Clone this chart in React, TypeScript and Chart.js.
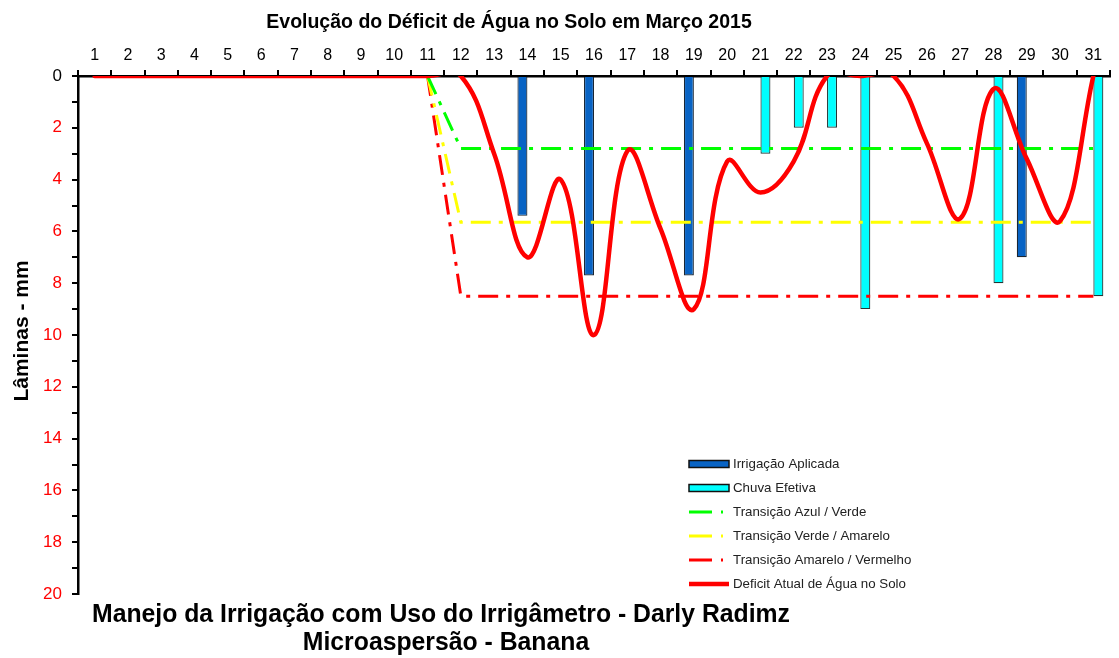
import React, { useEffect, useRef } from 'react';
import { Chart, registerables } from 'chart.js';

Chart.register(...registerables);

const FAMILY = '"Liberation Sans", Arial, Helvetica, sans-serif';

const TITLE = 'Evolução do Déficit de Água no Solo em Março 2015';
const Y_TITLE = 'Lâminas - mm';
const FOOT_1 = 'Manejo da Irrigação com Uso do Irrigâmetro - Darly Radimz';
const FOOT_2 = 'Microaspersão - Banana';

const DAYS = ['1', '2', '3', '4', '5', '6', '7', '8', '9', '10', '11', '12', '13', '14', '15', '16', '17', '18', '19', '20', '21', '22', '23', '24', '25', '26', '27', '28', '29', '30', '31'];

const IRRIGACAO = [null, null, null, null, null, null, null, null, null, null,
  null, null, null, 5.4, null, 7.7, null, null, 7.7, null,
  null, null, null, null, null, null, null, null, 7.0, null,
  null];

const CHUVA = [null, null, null, null, null, null, null, null, null, null,
  null, null, null, null, null, null, null, null, null, null,
  3.0, 2.0, 2.0, 9.0, null, null, null, 8.0, null, null,
  8.5];

const AZUL_VERDE = [null, null, null, null, null, null, null, null, null, null,
  0, 2.8, 2.8, 2.8, 2.8, 2.8, 2.8, 2.8, 2.8, 2.8,
  2.8, 2.8, 2.8, 2.8, 2.8, 2.8, 2.8, 2.8, 2.8, 2.8,
  2.8];

const VERDE_AMARELO = [null, null, null, null, null, null, null, null, null, null,
  0, 5.65, 5.65, 5.65, 5.65, 5.65, 5.65, 5.65, 5.65, 5.65,
  5.65, 5.65, 5.65, 5.65, 5.65, 5.65, 5.65, 5.65, 5.65, 5.65,
  5.65];

const AMARELO_VERMELHO = [null, null, null, null, null, null, null, null, null, null,
  0, 8.5, 8.5, 8.5, 8.5, 8.5, 8.5, 8.5, 8.5, 8.5,
  8.5, 8.5, 8.5, 8.5, 8.5, 8.5, 8.5, 8.5, 8.5, 8.5,
  8.5];

const DEFICIT = [0, 0, 0, 0, 0, 0, 0, 0, 0, 0,
  0, 0, 3.0, 7.0, 4.0, 10.0, 2.9, 5.9, 9.0, 3.3,
  4.5, 3.3, 0, 0, 0, 2.6, 5.5, 0.5, 3.2, 5.6,
  0];

const DASH = [20, 8, 4, 8];

function drawCondensed(ctx: CanvasRenderingContext2D, text: string, cx: number, y: number, sx: number) {
  ctx.save();
  ctx.translate(cx, y);
  ctx.scale(sx, 1);
  ctx.fillText(text, 0, 0);
  ctx.restore();
}

const overlayPlugin = {
  id: 'overlayTexts',
  afterDraw(chart: any) {
    const ctx = chart.ctx as CanvasRenderingContext2D;
    ctx.save();
    ctx.fillStyle = '#000';
    ctx.textAlign = 'center';
    ctx.textBaseline = 'alphabetic';
    ctx.font = `bold 19.5px ${FAMILY}`;
    ctx.fillText(TITLE, 509, 28);

    // y axis title
    ctx.save();
    ctx.translate(28, 331);
    ctx.rotate(-Math.PI / 2);
    ctx.font = `bold 21px ${FAMILY}`;
    ctx.fillText(Y_TITLE, 0, 0);
    ctx.restore();

    // footer (narrow bold)
    ctx.font = `bold 25px ${FAMILY}`;
    const w1 = ctx.measureText(FOOT_1).width;
    const sx = 698 / w1;
    drawCondensed(ctx, FOOT_1, 441, 622, sx);
    drawCondensed(ctx, FOOT_2, 446, 650, sx);

    // legend
    const x0 = 689;
    const sw = 40;
    const ys = [464, 488, 512, 536, 560, 584];
    ctx.textAlign = 'left';
    ctx.textBaseline = 'middle';
    ctx.font = `13.3px ${FAMILY}`;
    ys.forEach((y, i) => {
      const ds = chart.data.datasets[i];
      if (ds.type === 'bar') {
        ctx.fillStyle = ds.backgroundColor;
        ctx.fillRect(x0, y - 3.5, sw, 7);
        ctx.strokeStyle = '#111';
        ctx.lineWidth = 1.5;
        ctx.strokeRect(x0, y - 3.5, sw, 7);
      } else {
        ctx.strokeStyle = ds.borderColor;
        ctx.lineWidth = ds.borderWidth;
        ctx.setLineDash(ds.borderDash ? [23, 9, 2, 9] : []);
        ctx.lineCap = 'butt';
        ctx.beginPath();
        ctx.moveTo(x0, y);
        ctx.lineTo(x0 + sw, y);
        ctx.stroke();
        ctx.setLineDash([]);
      }
      ctx.fillStyle = '#222';
      ctx.fillText(ds.label, x0 + sw + 4, y + 0.5);
    });
    ctx.restore();
  },
};

export default function App() {
  const ref = useRef<HTMLCanvasElement>(null);

  useEffect(() => {
    if (!ref.current) return;
    const chart = new Chart(ref.current, {
      type: 'bar',
      data: {
        labels: DAYS,
        datasets: [
          {
            type: 'bar',
            label: 'Irrigação Aplicada',
            data: IRRIGACAO,
            backgroundColor: '#0863C4',
            borderColor: '#1A2633',
            borderWidth: 1.2,
            categoryPercentage: 0.6,
            barPercentage: 1.0,
            order: 3,
          },
          {
            type: 'bar',
            label: 'Chuva Efetiva',
            data: CHUVA,
            backgroundColor: '#00FFFF',
            borderColor: '#253535',
            borderWidth: 1.2,
            categoryPercentage: 0.6,
            barPercentage: 1.0,
            order: 3,
          },
          {
            type: 'line',
            label: 'Transição Azul / Verde',
            data: AZUL_VERDE,
            borderColor: '#00FF00',
            borderWidth: 3,
            borderDash: DASH,
            pointRadius: 0,
            tension: 0,
            fill: false,
            order: 2,
          },
          {
            type: 'line',
            label: 'Transição Verde / Amarelo',
            data: VERDE_AMARELO,
            borderColor: '#FFFF00',
            borderWidth: 3,
            borderDash: DASH,
            pointRadius: 0,
            tension: 0,
            fill: false,
            order: 2,
          },
          {
            type: 'line',
            label: 'Transição Amarelo / Vermelho',
            data: AMARELO_VERMELHO,
            borderColor: '#FF0000',
            borderWidth: 3,
            borderDash: DASH,
            pointRadius: 0,
            tension: 0,
            fill: false,
            order: 2,
          },
          {
            type: 'line',
            label: 'Deficit Atual de Água no Solo',
            data: DEFICIT,
            borderColor: '#FF0000',
            borderWidth: 4.5,
            pointRadius: 0,
            tension: 0.4,
            capBezierPoints: false,
            borderJoinStyle: 'round',
            borderCapStyle: 'round',
            fill: false,
            order: 0,
          } as any,
        ],
      },
      options: {
        animation: false,
        responsive: false,
        devicePixelRatio: 1,
        layout: { padding: { top: 40, right: 9, bottom: 64, left: 0 } },
        plugins: {
          legend: { display: false },
          title: { display: false },
          tooltip: { enabled: false },
        },
        scales: {
          x: {
            position: 'top',
            offset: true,
            grid: {
              offset: true,
              drawOnChartArea: false,
              drawTicks: true,
              tickLength: 6,
              color: '#000',
              lineWidth: 2,
            },
            border: { display: true, color: '#000', width: 2.5 },
            ticks: {
              color: '#000',
              font: { size: 16, family: FAMILY },
              padding: 5,
              maxRotation: 0,
              autoSkip: false,
            },
            afterFit: (s: any) => { s.height = 36; },
          },
          y: {
            reverse: true,
            min: 0,
            max: 20,
            grid: {
              drawOnChartArea: false,
              drawTicks: true,
              tickLength: 6,
              color: '#000',
              lineWidth: 2,
            },
            border: { display: true, color: '#000', width: 2.5 },
            ticks: {
              stepSize: 1,
              autoSkip: false,
              padding: 10,
              font: { size: 17, family: FAMILY },
              color: (c: any) => (c.tick && c.tick.value === 0 ? '#000' : '#FF0000'),
              callback: (v: any) => (Number(v) % 2 === 0 ? String(v) : ''),
            },
            afterFit: (s: any) => { s.width = 78; },
          },
        },
      },
      plugins: [overlayPlugin],
    } as any);
    return () => chart.destroy();
  }, []);

  return (
    <div style={{ position: 'fixed', left: 0, top: 0, width: 1119, height: 658, background: '#fff' }}>
      <canvas ref={ref} width={1119} height={658} style={{ display: 'block' }} />
    </div>
  );
}
